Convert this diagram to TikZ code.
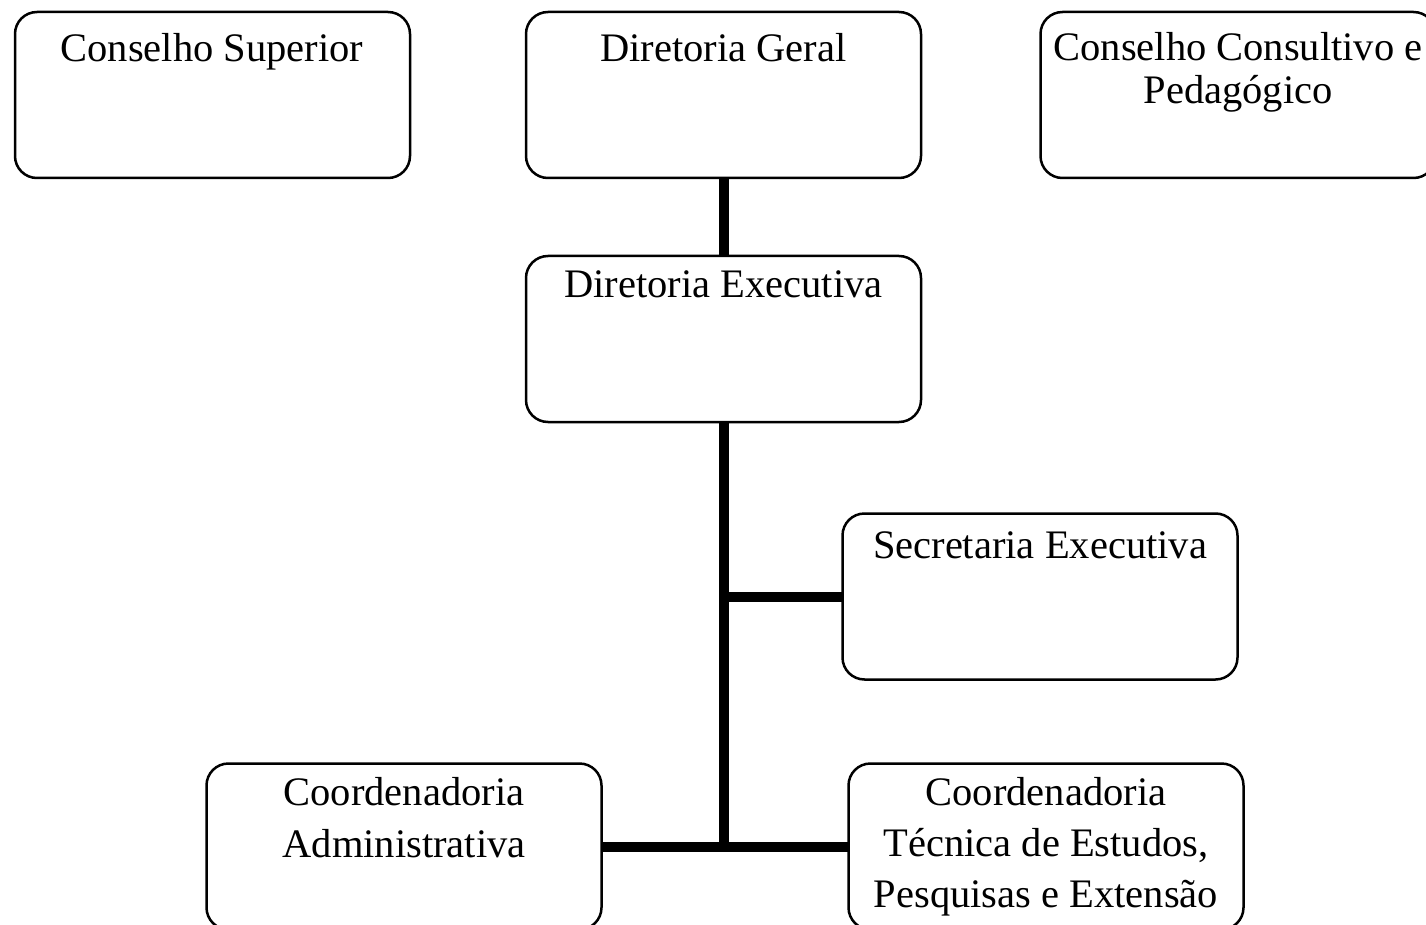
\documentclass[tikz,border=0pt]{standalone}
\usepackage{fontspec}
\setmainfont{Liberation Serif}
\usetikzlibrary{calc}
\tikzset{
  orgbox/.style={draw=black, line width=2.5pt, rounded corners=22pt, fill=white,
    rectangle, inner sep=0pt, outer sep=0pt, minimum width=395pt, minimum height=166pt},
  boxtext/.style={anchor=north, inner sep=0pt, outer sep=0pt, align=center, text=black},
  link/.style={draw=black, line width=10pt}
}
\newcommand{\orgfont}[1]{\fontsize{40.5}{#1}\selectfont}
\begin{document}
\begin{tikzpicture}[x=1pt,y=-1pt]
\path[use as bounding box, clip] (0,0) rectangle (1426,925);
\fill[white] (0,0) rectangle (1426,925);
% boxes
\node[orgbox] (cs) at (212.5,95) {};
\node[orgbox] (dg) at (723.5,95) {};
\node[orgbox] (cc) at (1238,95) {};
\node[orgbox] (de) at (723.5,339) {};
\node[orgbox] (se) at (1040,596.5) {};
\node[orgbox] (ca) at (404,846.5) {};
\node[orgbox] (ct) at (1046,846.5) {};
% texts
\node[boxtext, font=\orgfont{46}] (cst) at (212,33.3) {Conselho Superior};
\node[boxtext, font=\orgfont{46}] (dgt) at (723.5,33.3) {Diretoria Geral};
\node[boxtext, font=\orgfont{43}] (cct) at (1238,32.3) {Conselho Consultivo e\\Pedagógico};
\node[boxtext, font=\orgfont{46}] (det) at (723.5,270.3) {Diretoria Executiva};
\node[boxtext, font=\orgfont{46}] (set) at (1040,532) {Secretaria Executiva};
\node[boxtext, font=\orgfont{52}] (cat) at (404,777) {Coordenadoria\\Administrativa};
\node[boxtext, font=\orgfont{51}] (ctt) at (1046,777) {Coordenadoria\\Técnica de Estudos,\\Pesquisas e Extensão};
% connectors
\coordinate (jb) at (de.south |- ca.east);
\coordinate (js) at (de.south |- se.west);
\draw[link] (dg.south) -- (de.north);
\draw[link] (de.south) -- ([yshift=-5pt]jb);
\draw[link] (js) -- (se.west);
\draw[link] (ca.east) -- (ct.west);
\end{tikzpicture}
\end{document}
